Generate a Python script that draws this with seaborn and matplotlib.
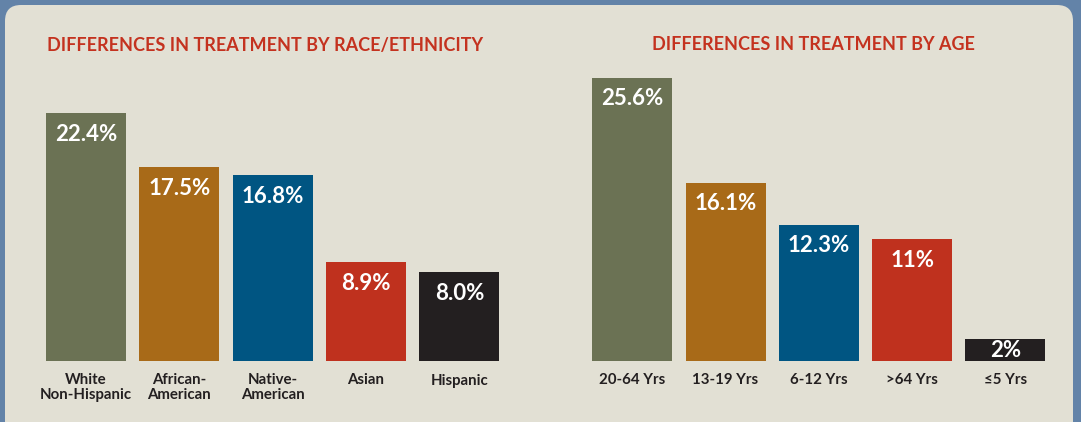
import matplotlib
matplotlib.use("Agg")
import matplotlib.pyplot as plt
import seaborn as sns
import pandas as pd
from matplotlib.patches import FancyBboxPatch

sns.set_theme(style="white")
plt.rcParams['font.family'] = ['Lato', 'DejaVu Sans']

# ---- data ----
race_categories = ["White\nNon-Hispanic", "African-\nAmerican", "Native-\nAmerican", "Asian", "Hispanic"]
race_values = [22.4, 17.5, 16.8, 8.9, 8.0]
race_labels = ["22.4%", "17.5%", "16.8%", "8.9%", "8.0%"]

age_categories = ["20-64 Yrs", "13-19 Yrs", "6-12 Yrs", ">64 Yrs", "\u22645 Yrs"]
age_values = [25.6, 16.1, 12.3, 11.0, 2.0]
age_labels = ["25.6%", "16.1%", "12.3%", "11%", "2%"]

titles = ["DIFFERENCES IN TREATMENT BY RACE/ETHNICITY", "DIFFERENCES IN TREATMENT BY AGE"]
colors = ["#6b7254", "#a86a18", "#005582", "#bf311e", "#231f20"]

BORDER = "#6383a8"
PANEL = "#e2e0d4"
TITLE_RED = "#c4321f"
DARK = "#231f20"

W, H = 1081, 422
fig = plt.figure(figsize=(W / 100, H / 100), dpi=100)
fig.patch.set_facecolor(BORDER)

# background panel
bg = fig.add_axes([0, 0, 1, 1], zorder=-10)
bg.set_xlim(0, W)
bg.set_ylim(H, 0)
bg.axis("off")
bg.add_patch(FancyBboxPatch((5, 5), 1068, 440, boxstyle="round,pad=0,rounding_size=16",
                            facecolor=PANEL, edgecolor="none"))

px_per_unit = 11.07
ymax = 332 / px_per_unit

def draw(left_px, cats, vals, labels, title, title_x):
    ax = fig.add_axes([left_px / W, 61 / H, 466.5 / W, 332 / H])
    ax.patch.set_alpha(0)
    df = pd.DataFrame({"cat": cats, "val": vals})
    sns.barplot(data=df, x="cat", y="val", hue="cat", palette=colors, legend=False,
                width=0.858, saturation=1, ax=ax, order=cats, linewidth=0, edgecolor="none")
    ax.set_xlim(-0.5, len(cats) - 0.5)
    ax.set_ylim(0, ymax)
    for s in ax.spines.values():
        s.set_visible(False)
    ax.set_yticks([])
    ax.set_xlabel("")
    ax.set_ylabel("")
    ax.tick_params(axis="x", length=0, pad=9)
    ax.set_xticks(range(len(cats)), labels=cats, fontweight="bold", fontsize=10.8,
                  color=DARK, linespacing=1.05, va="top")
    for i, (v, lab) in enumerate(zip(vals, labels)):
        hpx = v * px_per_unit
        off = min(21, hpx / 2 + 1)
        ax.annotate(lab, xy=(i, v), xytext=(0, -off * 0.72), textcoords="offset points",
                    ha="center", va="center", color="white", fontsize=16, fontweight="bold")
    fig.text(title_x / W, 1 - 45 / H, title, color=TITLE_RED, fontsize=13, fontweight="bold",
             ha="left", va="center")
    return ax

draw(39.5, race_categories, race_values, race_labels, titles[0], 47)
draw(585.6, age_categories, age_values, age_labels, titles[1], 652)

fig.savefig("out.png", dpi=100, facecolor=BORDER)
